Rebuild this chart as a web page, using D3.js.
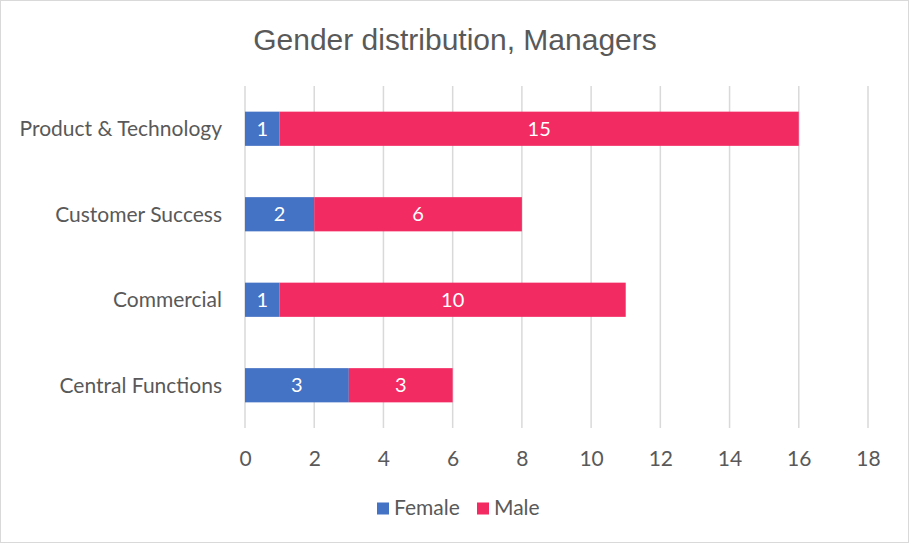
<!DOCTYPE html>
<html><head><meta charset="utf-8">
<script src="https://cdn.jsdelivr.net/npm/d3@7"></script>
<style>body{margin:0;background:#fff}</style>
</head><body>
<script>
const categories = ["Product & Technology", "Customer Success", "Commercial", "Central Functions"];
const femaleValues = [1, 2, 1, 3];
const maleValues = [15, 6, 10, 3];
const seriesNames = ["Female", "Male"];
const seriesColors = ["#4472C4", "#F32B63"];
const xTicks = [0, 2, 4, 6, 8, 10, 12, 14, 16, 18];

const W = 909, H = 543;
const svg = d3.select("body").append("svg").attr("width", W).attr("height", H);
svg.append("rect").attr("x", 0.5).attr("y", 0.5).attr("width", W - 1).attr("height", H - 1)
  .attr("fill", "#fff").attr("stroke", "#d9d9d9");

const labelFont = "Lato, 'Noto Sans', sans-serif";
svg.append("text").attr("x", 455).attr("y", 50).attr("text-anchor", "middle")
  .attr("font-family", "'Liberation Sans', Arial, sans-serif").attr("font-size", 30)
  .attr("fill", "#595959").text("Gender distribution, Managers");

const x = d3.scaleLinear().domain([0, 18]).range([245, 868]);
const y = d3.scaleBand().domain(categories).range([86, 428]).paddingInner(0.6).paddingOuter(0.3);

// gridlines
svg.append("g").selectAll("line").data(xTicks).join("line")
  .attr("x1", d => x(d)).attr("x2", d => x(d)).attr("y1", 86).attr("y2", 428)
  .attr("stroke", "#d9d9d9").attr("stroke-width", 1.5);

const data = categories.map((c, i) => ({cat: c, Female: femaleValues[i], Male: maleValues[i]}));
const stack = d3.stack().keys(seriesNames)(data);

const g = svg.append("g");
stack.forEach((s, si) => {
  g.selectAll(null).data(s).join("rect")
    .attr("x", d => x(d[0])).attr("width", d => x(d[1]) - x(d[0]))
    .attr("y", d => y(d.data.cat)).attr("height", y.bandwidth())
    .attr("fill", seriesColors[si]);
  g.selectAll(null).data(s).join("text")
    .attr("x", d => (x(d[0]) + x(d[1])) / 2).attr("y", d => y(d.data.cat) + y.bandwidth() / 2)
    .attr("dy", "0.35em").attr("text-anchor", "middle")
    .attr("font-family", labelFont).attr("font-size", 20).attr("fill", "#fff")
    .text(d => d[1] - d[0]);
});

// category axis labels
svg.append("g").selectAll("text").data(categories).join("text")
  .attr("x", 222).attr("y", d => y(d) + y.bandwidth() / 2).attr("dy", "0.35em")
  .attr("text-anchor", "end").attr("font-family", labelFont).attr("font-size", 21)
  .attr("fill", "#595959").text(d => d);

// x axis
const xAxis = d3.axisBottom(x).tickValues(xTicks).tickSize(0).tickPadding(0);
const ax = svg.append("g").attr("transform", "translate(0,466)").call(xAxis);
ax.select(".domain").remove();
ax.selectAll("text").attr("font-family", labelFont).attr("font-size", 21).attr("fill", "#595959").attr("dy", 0);

// legend
const legendItems = [{n: seriesNames[0], c: seriesColors[0], x: 377}, {n: seriesNames[1], c: seriesColors[1], x: 477}];
const lg = svg.append("g");
legendItems.forEach(it => {
  lg.append("rect").attr("x", it.x).attr("y", 502.5).attr("width", 12).attr("height", 12).attr("fill", it.c);
  lg.append("text").attr("x", it.x + 17).attr("y", 508).attr("dy", "0.35em")
    .attr("font-family", labelFont).attr("font-size", 21).attr("fill", "#595959").text(it.n);
});
</script>
</body></html>
